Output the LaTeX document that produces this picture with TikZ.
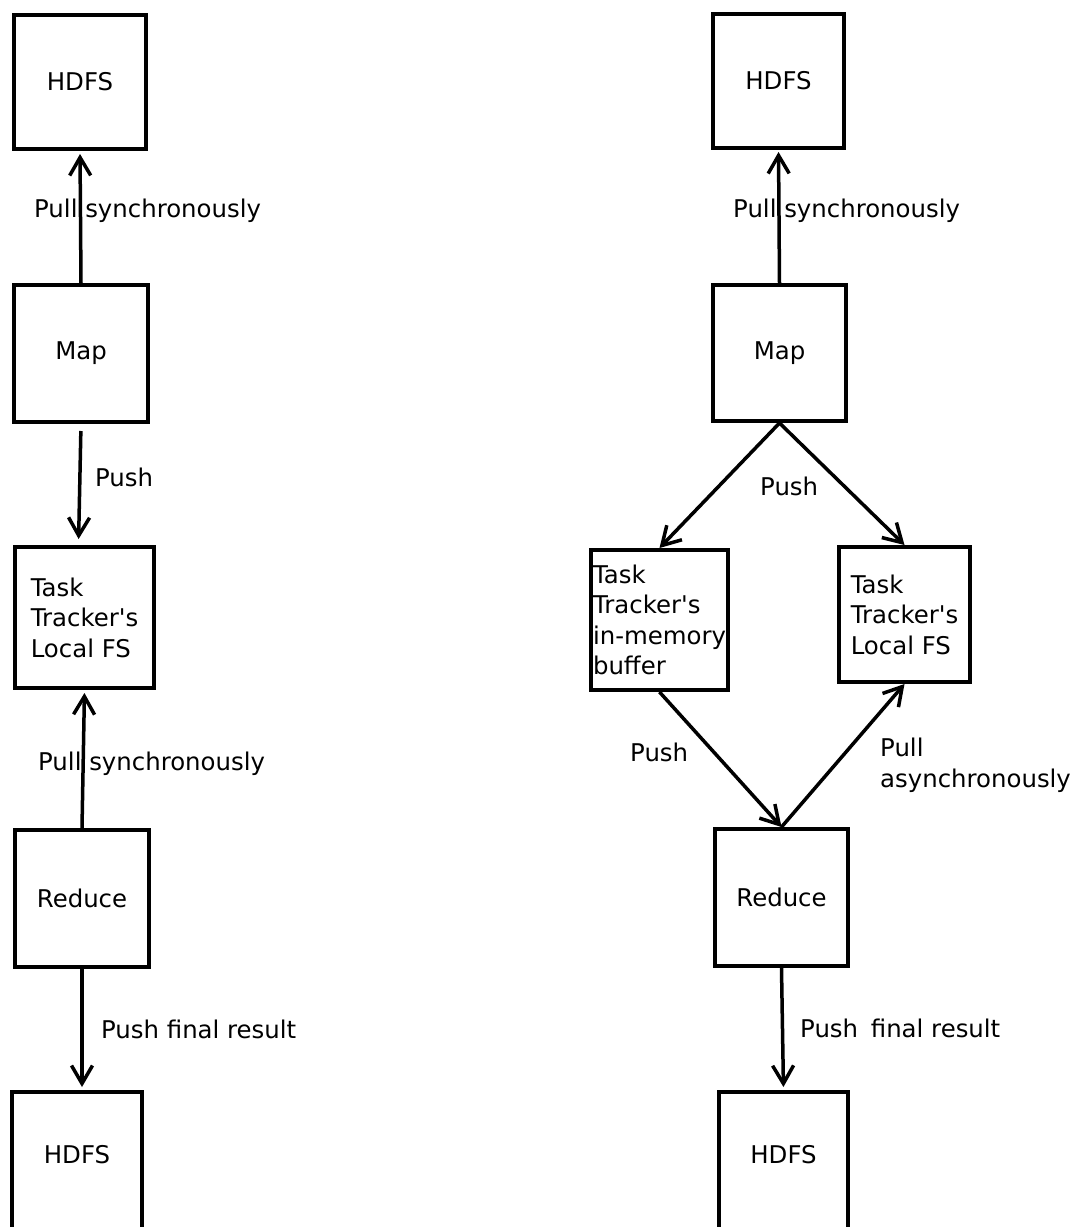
\documentclass[tikz,border=0pt]{standalone}
\usepackage{fontspec}
\setmainfont{DejaVu Sans}
\usepackage{tikz}
\usetikzlibrary{arrows.meta}

\tikzset{
  box/.style={draw, line width=4pt, inner sep=0pt, align=left,
    font=\fontsize{24.4}{30.5}\selectfont},
  lbl/.style={anchor=base west, inner sep=0pt, align=left,
    font=\fontsize{24.4}{30.5}\selectfont},
  flow/.style={-{Straight Barb[length=18pt,width=21pt]}, line width=3.5pt},
}

\begin{document}
\begin{tikzpicture}[x=1pt, y=-1pt]
  \path[use as bounding box, clip] (0,0) rectangle (1076,1227);
  % left: plain MapReduce
  \node[box, minimum width=132, minimum height=134] (LHdfsT) at (80,82) {HDFS};
  \node[box, minimum width=134, minimum height=137] (LMap) at (81,353.5) {Map};
  \node[box, minimum width=139, minimum height=141] (LLocal) at (84.5,617.5) {Task\\Tracker\textquotesingle s\\Local FS};
  \node[box, minimum width=134, minimum height=137] (LReduce) at (82,898.5) {Reduce};
  \node[box, minimum width=130, minimum height=138, text depth=14pt] (LHdfsB) at (77,1161) {HDFS};
  \node[lbl] (LPullA) at (34,217) {Pull synchronously};
  \node[lbl] (LPushA) at (95,486) {Push};
  \node[lbl] (LPullB) at (38,770) {Pull synchronously};
  \node[lbl] (LPushB) at (101,1038) {Push final result};
  \draw [flow, shorten >=3pt] (LMap.north) -- (LHdfsT.south);
  \draw [flow, shorten <=7pt, shorten >=6pt] (LMap.south) -- ([xshift=-6pt]LLocal.north);
  \draw [flow, shorten >=3pt] (LReduce.north) -- (LLocal.south);
  \draw [flow, shorten >=3pt] (LReduce.south) -- (LReduce.south |- LHdfsB.north);
  % right: pipelined version
  \node[box, minimum width=131, minimum height=134] (RHdfsT) at (778.5,81) {HDFS};
  \node[box, minimum width=133, minimum height=136] (RMap) at (779.5,353) {Map};
  \node[box, minimum width=137, minimum height=140] (RBuffer) at (659.5,620) {Task\\Tracker\textquotesingle s\\in-memory\\buffer};
  \node[box, minimum width=131, minimum height=135] (RLocal) at (904.5,614.5) {Task\\Tracker\textquotesingle s\\Local FS};
  \node[box, minimum width=133, minimum height=137] (RReduce) at (781.5,897.5) {Reduce};
  \node[box, minimum width=129, minimum height=138, text depth=14pt] (RHdfsB) at (783.5,1161) {HDFS};
  \node[lbl] (RPullA) at (733,217) {Pull synchronously};
  \node[lbl] (RPushA) at (760,495) {Push};
  \node[lbl] (RPushB) at (630,761) {Push};
  \node[lbl] (RPullB) at (880,787) {Pull\\asynchronously};
  \node[lbl] (RPushC) at (800,1037) {Push\hspace{5pt} final result};
  \draw [flow, shorten >=2pt] (RMap.north) -- (RHdfsT.south);
  \draw [flow] (RMap.south) -- (RBuffer.north);
  \draw [flow] (RMap.south) -- (RLocal.north);
  \draw [flow] (RBuffer.south) -- (RReduce.north);
  \draw [flow] (RReduce.north) -- (RLocal.south);
  \draw [flow, shorten >=3pt] (RReduce.south) -- (RHdfsB.north);
\end{tikzpicture}
\end{document}
